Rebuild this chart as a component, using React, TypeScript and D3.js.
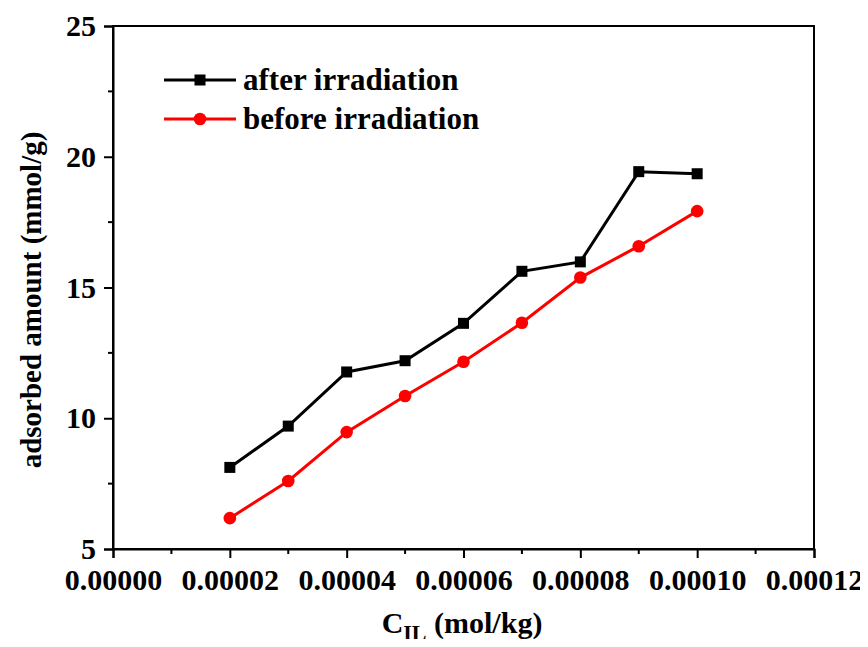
import React, { useEffect, useRef } from "react";
import * as d3 from "d3";

const concentrations = [0.00002, 0.00003, 0.00004, 0.00005, 0.00006, 0.00007, 0.00008, 0.00009, 0.0001];
const afterIrradiation = [8.12, 9.7, 11.77, 12.2, 13.63, 15.62, 15.98, 19.43, 19.35];
const beforeIrradiation = [6.18, 7.6, 9.47, 10.85, 12.16, 13.65, 15.38, 16.58, 17.92];
const xTicks = [0, 0.00002, 0.00004, 0.00006, 0.00008, 0.0001, 0.00012];
const yTicks = [5, 10, 15, 20, 25];
const seriesNames = ["after irradiation", "before irradiation"];

const font = "'Liberation Serif', 'Times New Roman', serif";

function App() {
  const svgRef = useRef(null);
  useEffect(() => {
    const svg = d3.select(svgRef.current);
    svg.selectAll("*").remove();
    const left = 113, right = 814, top = 26, bottom = 549;

    const xScale = d3.scaleLinear().domain([0, 0.00012]).range([left, right]);
    const yScale = d3.scaleLinear().domain([5, 25]).range([bottom, top]);

    // frame
    svg.append("rect")
      .attr("x", left).attr("y", top)
      .attr("width", right - left).attr("height", bottom - top)
      .attr("fill", "none").attr("stroke", "black").attr("stroke-width", 2);

    // x axis
    const xAxis = d3.axisBottom(xScale).tickValues(xTicks).tickSize(9).tickPadding(11)
      .tickFormat((d) => d3.format(".5f")(d));
    const gx = svg.append("g").attr("transform", `translate(0,${bottom})`).call(xAxis);
    const xMinor = d3.range(0.00001, 0.00012, 0.00002);
    gx.selectAll(".minor").data(xMinor).enter().append("line")
      .attr("x1", (d) => xScale(d)).attr("x2", (d) => xScale(d))
      .attr("y1", 0).attr("y2", 5).attr("stroke", "black").attr("stroke-width", 2);

    // y axis
    const yAxis = d3.axisLeft(yScale).tickValues(yTicks).tickSize(9).tickPadding(8);
    const gy = svg.append("g").attr("transform", `translate(${left},0)`).call(yAxis);
    const yMinor = [7.5, 12.5, 17.5, 22.5];
    gy.selectAll(".minor").data(yMinor).enter().append("line")
      .attr("y1", (d) => yScale(d)).attr("y2", (d) => yScale(d))
      .attr("x1", 0).attr("x2", -5).attr("stroke", "black").attr("stroke-width", 2);

    [gx, gy].forEach((g) => {
      g.select(".domain").attr("stroke-width", 2);
      g.selectAll(".tick line").attr("stroke-width", 2);
      g.selectAll(".tick text")
        .attr("font-family", font).attr("font-weight", "bold")
        .attr("font-size", 30).attr("fill", "black");
    });

    // lines
    const line = d3.line<number>()
      .x((d, i) => xScale(concentrations[i]))
      .y((d) => yScale(d));

    svg.append("path").datum(afterIrradiation).attr("d", line)
      .attr("fill", "none").attr("stroke", "black").attr("stroke-width", 3);
    svg.append("path").datum(beforeIrradiation).attr("d", line)
      .attr("fill", "none").attr("stroke", "red").attr("stroke-width", 3);

    svg.selectAll(".sq").data(afterIrradiation).enter().append("rect")
      .attr("x", (d, i) => xScale(concentrations[i]) - 5.5)
      .attr("y", (d) => yScale(d) - 5.5)
      .attr("width", 11).attr("height", 11).attr("fill", "black");
    svg.selectAll(".dot").data(beforeIrradiation).enter().append("circle")
      .attr("cx", (d, i) => xScale(concentrations[i]))
      .attr("cy", (d) => yScale(d))
      .attr("r", 6.3).attr("fill", "red");

    // legend
    const legend = svg.append("g");
    const colors = ["black", "red"];
    seriesNames.forEach((name, i) => {
      const ly = 80 + i * 39;
      legend.append("line").attr("x1", 164).attr("x2", 236).attr("y1", ly).attr("y2", ly)
        .attr("stroke", colors[i]).attr("stroke-width", 3);
      if (i === 0) {
        legend.append("rect").attr("x", 200 - 5.5).attr("y", ly - 5.5)
          .attr("width", 11).attr("height", 11).attr("fill", "black");
      } else {
        legend.append("circle").attr("cx", 200).attr("cy", ly).attr("r", 6.3).attr("fill", "red");
      }
      legend.append("text").attr("x", 243).attr("y", ly + 10)
        .attr("font-family", font).attr("font-weight", "bold").attr("font-size", 31)
        .text(name);
    });

    // y title
    svg.append("text")
      .attr("transform", `translate(41,300) rotate(-90)`)
      .attr("text-anchor", "middle")
      .attr("font-family", font).attr("font-weight", "bold").attr("font-size", 29)
      .text("adsorbed amount (mmol/g)");

    // x title
    const xt = svg.append("text")
      .attr("x", 462).attr("y", 633)
      .attr("text-anchor", "middle")
      .attr("font-family", font).attr("font-weight", "bold").attr("font-size", 30);
    xt.append("tspan").text("C");
    xt.append("tspan").attr("font-size", 22).attr("dy", 7).text("IL");
    xt.append("tspan").attr("dy", -7).text(" (mol/kg)");
  }, []);

  return (
    <div style={{ margin: -8 }}>
      <svg ref={svgRef} width={868} height={647} style={{ display: "block", background: "white" }} />
    </div>
  );
}

export default App;
